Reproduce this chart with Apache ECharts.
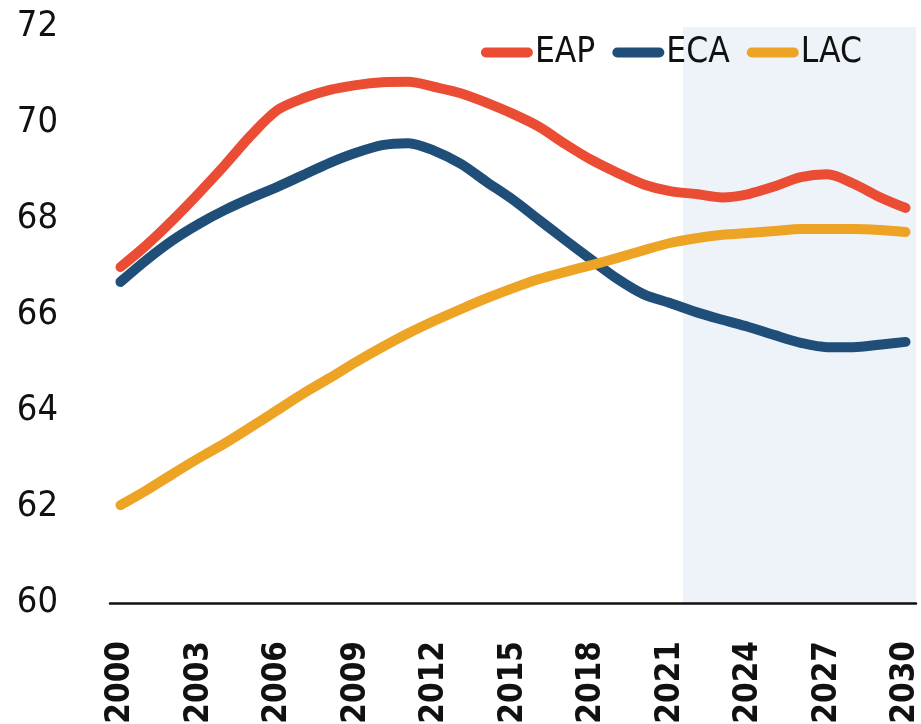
<!DOCTYPE html>
<html>
<head>
<meta charset="utf-8">
<script src="https://cdn.jsdelivr.net/npm/echarts@6/dist/echarts.min.js"></script>
<style>
html,body{margin:0;padding:0;background:#fff;}
#chart{width:921px;height:724px;}
</style>
</head>
<body>
<div id="chart"></div>
<script>
const years = [2000,2001,2002,2003,2004,2005,2006,2007,2008,2009,2010,2011,2012,2013,2014,2015,2016,2017,2018,2019,2020,2021,2022,2023,2024,2025,2026,2027,2028,2029,2030];
const eap = [67.0,67.46,67.98,68.54,69.13,69.75,70.27,70.52,70.69,70.79,70.85,70.86,70.75,70.62,70.42,70.19,69.92,69.56,69.23,68.96,68.72,68.58,68.52,68.45,68.52,68.68,68.87,68.93,68.74,68.46,68.23];
const eca = [66.69,67.15,67.56,67.9,68.19,68.44,68.67,68.92,69.17,69.38,69.54,69.58,69.42,69.15,68.77,68.4,67.98,67.56,67.15,66.75,66.43,66.25,66.06,65.9,65.75,65.58,65.42,65.33,65.33,65.38,65.44];
const lac = [62.04,62.35,62.69,63.02,63.33,63.67,64.02,64.37,64.69,65.02,65.33,65.62,65.88,66.12,66.35,66.56,66.75,66.9,67.04,67.19,67.35,67.5,67.6,67.67,67.71,67.75,67.79,67.79,67.79,67.77,67.73];
const xTickLabels = [2000,2003,2006,2009,2012,2015,2018,2021,2024,2027,2030];
const yTicks = [60,62,64,66,68,70,72];
const seriesNames = ['EAP','ECA','LAC'];
const colors = ['#EA4D33','#1F4E79','#EDA323'];
const shadeStart = 2021.5;

const pairs = arr => years.map((y,i)=>[y,arr[i]]);
const narrow = "'Liberation Sans Narrow','Arial Narrow','DejaVu Sans Condensed',sans-serif";
const capsule = 'path://M5,0 H47 A5,5 0 0 1 47,10 H5 A5,5 0 0 1 5,0 Z';

const chart = echarts.init(document.getElementById('chart'), null, {renderer:'canvas'});
const mk = (name, data, color, extra) => Object.assign({
  name, type:'line', data: pairs(data), showSymbol:false, smooth:0.3,
  lineStyle:{width:10, color, cap:'round', join:'round'}, itemStyle:{color},
  emphasis:{disabled:true}, z:3
}, extra||{});

chart.setOption({
  animation:false,
  backgroundColor:'#ffffff',
  grid:{left:110, right:5, top:27, bottom:121, containLabel:false, outerBoundsMode:'none'},
  legend:{
    right:54, top:30, itemGap:17, itemWidth:52, itemHeight:11,
    icon: capsule,
    data: seriesNames,
    textStyle:{fontFamily:narrow, fontSize:35, color:'#111', padding:[0,0,0,-3]}
  },
  xAxis:{
    type:'value', min:1999.6, max:2030.4,
    splitLine:{show:false},
    axisTick:{show:false},
    axisLine:{show:true, lineStyle:{color:'#111', width:2.5}},
    axisLabel:{customValues:xTickLabels, rotate:90, margin:38, fontFamily:narrow, fontWeight:'bold', fontSize:33, color:'#111', formatter:v=>String(v)}
  },
  yAxis:{
    type:'value', min:yTicks[0], max:yTicks[yTicks.length-1], interval:2,
    splitLine:{show:false}, axisTick:{show:false}, axisLine:{show:false},
    axisLabel:{margin:52, fontFamily:narrow, fontSize:36, color:'#111'}
  },
  series:[
    mk(seriesNames[0], eap, colors[0], {
      markArea:{silent:true, itemStyle:{color:'#EEF3FA'}, z:0,
        data:[[{xAxis:shadeStart, yAxis:yTicks[yTicks.length-1]},{xAxis:2030.4, yAxis:yTicks[0]}]]}
    }),
    mk(seriesNames[1], eca, colors[1]),
    mk(seriesNames[2], lac, colors[2])
  ]
});
</script>
</body>
</html>
